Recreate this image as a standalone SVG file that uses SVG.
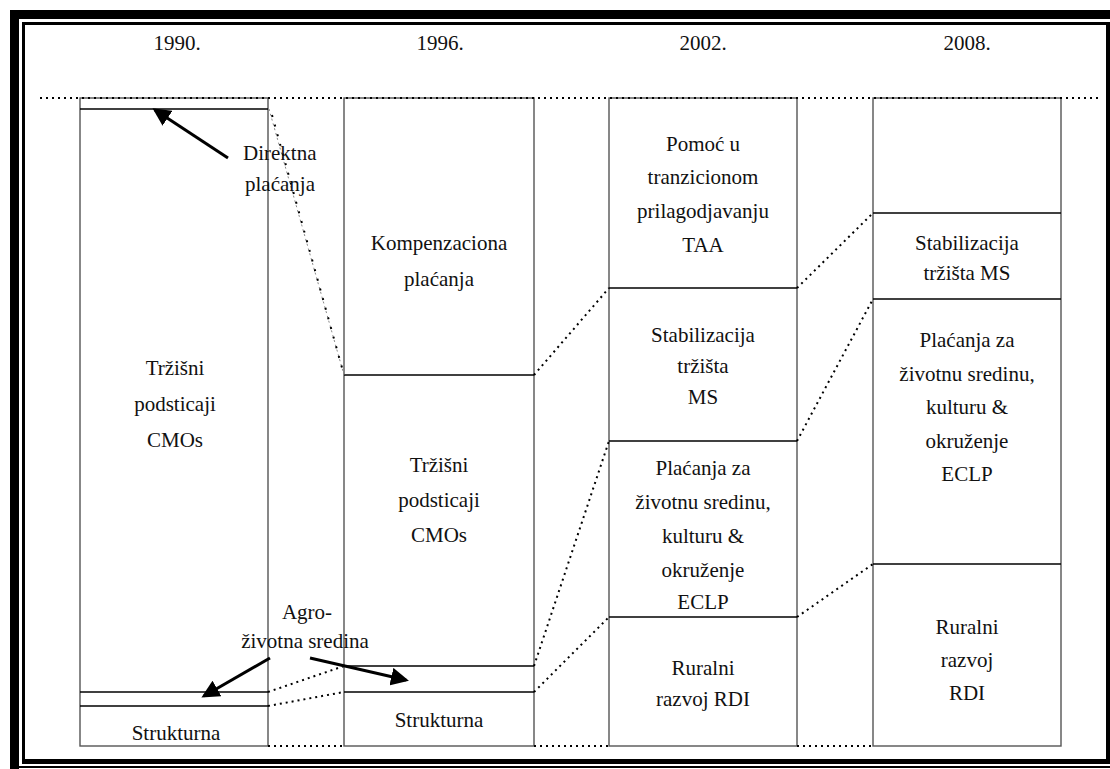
<svg xmlns="http://www.w3.org/2000/svg" width="1110" height="769" viewBox="0 0 1110 769">
<defs>
<style>
text{font-family:"Liberation Serif","Times New Roman",serif;font-size:21px;fill:#111;text-anchor:middle}
.box{fill:#fff;stroke:#555;stroke-width:1.4}
.div{stroke:#000;stroke-width:1.4}
.dot{stroke:#000;stroke-width:2;stroke-dasharray:2 4;fill:none}
.faint{stroke:#888;stroke-width:1;stroke-dasharray:2 3;fill:none}
.arr{stroke:#000;stroke-width:3;fill:none;marker-end:url(#ah)}
</style>
<marker id="ah" markerWidth="6" markerHeight="6" refX="5" refY="3" orient="auto" markerUnits="strokeWidth">
<path d="M0,0 L6,3 L0,6 z" fill="#000"/>
</marker>
</defs>
<rect width="1110" height="769" fill="#fff"/>
<g id="frame" fill="#000">
<rect x="10" y="10" width="1100" height="9"/>
<rect x="10" y="10" width="9" height="759"/>
<rect x="22" y="22" width="1087" height="3"/>
<rect x="22" y="22" width="3" height="742"/>
<rect x="1106" y="22" width="4" height="742"/>
<rect x="22" y="759" width="1088" height="5"/>
<rect x="19" y="766" width="1091" height="2"/>
</g>
<g id="years">
<text x="177" y="50">1990.</text>
<text x="440" y="50">1996.</text>
<text x="703" y="50">2002.</text>
<text x="967" y="50">2008.</text>
</g>
<g id="col1990">
<rect class="box" x="80" y="98" width="188" height="648" stroke="#888"/>
<line class="div" x1="80" y1="109" x2="268" y2="109"/>
<line class="div" x1="80" y1="692" x2="268" y2="692"/>
<line class="div" x1="80" y1="706" x2="268" y2="706"/>
<text x="175" y="375">Tržišni</text>
<text x="175" y="411">podsticaji</text>
<text x="175" y="447">CMOs</text>
<text x="176" y="740">Strukturna</text>
</g>
<g id="col1996">
<rect class="box" x="344" y="98" width="190" height="648"/>
<line class="div" x1="344" y1="375" x2="534" y2="375"/>
<line class="div" x1="344" y1="666" x2="534" y2="666"/>
<line class="div" x1="344" y1="692" x2="534" y2="692"/>
<text x="439" y="250">Kompenzaciona</text>
<text x="439" y="286">plaćanja</text>
<text x="439" y="472">Tržišni</text>
<text x="439" y="507">podsticaji</text>
<text x="439" y="542">CMOs</text>
<text x="439" y="727">Strukturna</text>
</g>
<g id="col2002">
<rect class="box" x="609" y="98" width="188" height="648"/>
<line class="div" x1="609" y1="288" x2="797" y2="288"/>
<line class="div" x1="609" y1="441" x2="797" y2="441"/>
<line class="div" x1="609" y1="617" x2="797" y2="617"/>
<text x="703" y="151">Pomoć u</text>
<text x="703" y="184">tranzicionom</text>
<text x="703" y="218">prilagodjavanju</text>
<text x="703" y="252">TAA</text>
<text x="703" y="342">Stabilizacija</text>
<text x="703" y="373">tržišta</text>
<text x="703" y="404">MS</text>
<text x="703" y="475">Plaćanja za</text>
<text x="703" y="509">životnu sredinu,</text>
<text x="703" y="543">kulturu &amp;</text>
<text x="703" y="577">okruženje</text>
<text x="703" y="609">ECLP</text>
<text x="703" y="675">Ruralni</text>
<text x="703" y="706">razvoj RDI</text>
</g>
<g id="col2008">
<rect class="box" x="873" y="98" width="188" height="648"/>
<line class="div" x1="873" y1="213" x2="1061" y2="213"/>
<line class="div" x1="873" y1="299" x2="1061" y2="299"/>
<line class="div" x1="873" y1="564" x2="1061" y2="564"/>
<text x="967" y="250">Stabilizacija</text>
<text x="967" y="280">tržišta MS</text>
<text x="967" y="347">Plaćanja za</text>
<text x="967" y="381">životnu sredinu,</text>
<text x="967" y="414">kulturu &amp;</text>
<text x="967" y="448">okruženje</text>
<text x="967" y="481">ECLP</text>
<text x="967" y="634">Ruralni</text>
<text x="967" y="667">razvoj</text>
<text x="967" y="700">RDI</text>
</g>
<g id="connectors">
<line class="dot" x1="40" y1="98" x2="1100" y2="98"/>
<line class="faint" x1="269" y1="109" x2="344" y2="375"/>
<path d="M272,115 L344,375" stroke="#000" stroke-width="2" stroke-dasharray="2 8" fill="none"/>
<line class="dot" x1="268" y1="692" x2="344" y2="666"/>
<line class="dot" x1="268" y1="706" x2="344" y2="692"/>
<line class="dot" x1="268" y1="746" x2="344" y2="746"/>
<line class="dot" x1="534" y1="375" x2="609" y2="288"/>
<line class="dot" x1="534" y1="666" x2="609" y2="441"/>
<line class="dot" x1="534" y1="692" x2="609" y2="617"/>
<line class="dot" x1="534" y1="746" x2="609" y2="746"/>
<line class="dot" x1="797" y1="288" x2="873" y2="213"/>
<line class="dot" x1="797" y1="441" x2="873" y2="299"/>
<line class="dot" x1="797" y1="617" x2="873" y2="564"/>
<line class="dot" x1="797" y1="746" x2="873" y2="746"/>
</g>
<g id="labels">
<text x="243" y="160" style="text-anchor:start">Direktna</text>
<text x="245" y="191" style="text-anchor:start">plaćanja</text>
<text x="307" y="619">Agro-</text>
<text x="305" y="648">životna sredina</text>
<line class="arr" x1="228" y1="158" x2="155" y2="110"/>
<line class="arr" x1="270" y1="658" x2="204" y2="696"/>
<line class="arr" x1="310" y1="658" x2="406" y2="680"/>
</g>
</svg>
